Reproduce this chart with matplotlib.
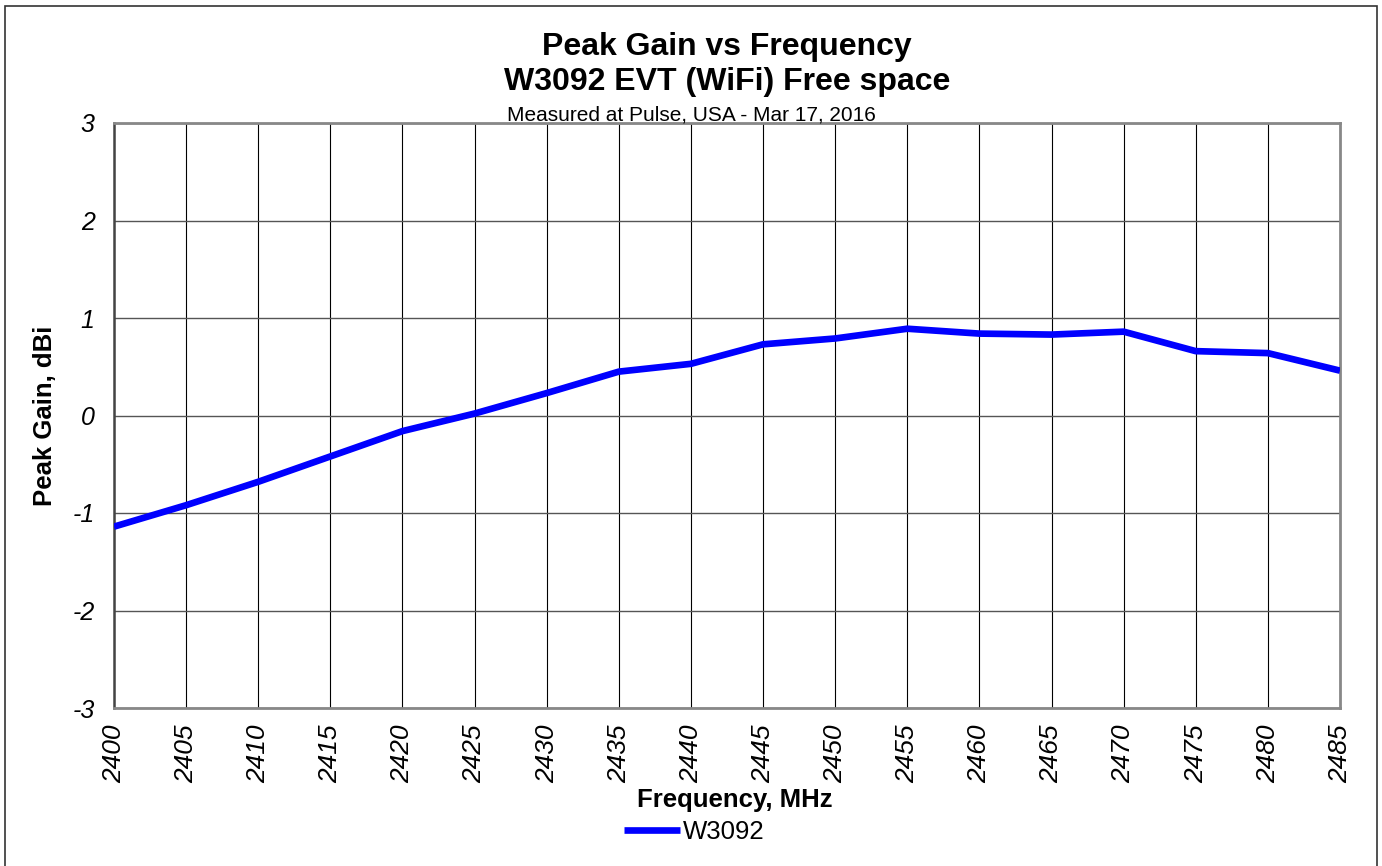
import matplotlib
matplotlib.use('Agg')
import matplotlib.pyplot as plt
from matplotlib.patches import Rectangle

plt.rcParams['font.family'] = ['Liberation Sans', 'DejaVu Sans']

# data
freq_mhz = [2400, 2405, 2410, 2415, 2420, 2425, 2430, 2435, 2440,
            2445, 2450, 2455, 2460, 2465, 2470, 2475, 2480, 2485]
peak_gain = [-1.14, -0.92, -0.68, -0.42, -0.16, 0.02, 0.23, 0.45, 0.53,
             0.73, 0.79, 0.89, 0.84, 0.83, 0.86, 0.66, 0.64, 0.46]
y_ticks = [-3, -2, -1, 0, 1, 2, 3]
series_name = 'W3092'

W, H = 1382, 866
fig = plt.figure(figsize=(W / 100, H / 100), dpi=100)
fig.patch.set_facecolor('white')

# plot area in pixels: x 114..1340, y 123..708
ax = fig.add_axes([114 / W, 1 - 708 / H, (1340 - 114) / W, (708 - 123) / H])

ax.plot(freq_mhz, peak_gain, color='#0000FF', lw=4.8, solid_capstyle='butt',
        label=series_name, zorder=3)

ax.set_xlim(2400, 2485)
ax.set_ylim(-3, 3)
ax.set_xticks(freq_mhz)
ax.set_yticks(y_ticks)
ax.set_xticklabels([str(f) for f in freq_mhz], rotation=90, style='italic',
                   fontsize=19)
ax.set_yticklabels([str(v) for v in y_ticks], style='italic', fontsize=18)
ax.tick_params(axis='x', length=0, pad=12)
ax.tick_params(axis='y', length=0, pad=14)

ax.grid(True, axis='x', color='black', lw=0.8)
ax.grid(True, axis='y', color='#555555', lw=1.0)

for side in ['top', 'right', 'bottom']:
    ax.spines[side].set_color('#888888')
    ax.spines[side].set_linewidth(2)
ax.spines['left'].set_color('#444444')
ax.spines['left'].set_linewidth(1.8)

# titles
fig.text(727 / W, 1 - 47 / H, 'Peak Gain vs Frequency', fontsize=23,
         fontweight='bold', ha='center', va='center')
fig.text(727 / W, 1 - 82 / H, 'W3092 EVT (WiFi) Free space', fontsize=23,
         fontweight='bold', ha='center', va='center')
fig.text(691 / W, 1 - 115 / H, 'Measured at Pulse, USA - Mar 17, 2016',
         fontsize=15, ha='center', va='center')

# axis labels
fig.text(735 / W, 1 - 800 / H, 'Frequency, MHz', fontsize=18.5,
         fontweight='bold', ha='center', va='center')
fig.text(45 / W, 1 - 416 / H, 'Peak Gain, dBi', fontsize=18.5,
         fontweight='bold', ha='center', va='center', rotation=90)

# legend
fig.legend(loc='center', bbox_to_anchor=(694 / W, 1 - 832 / H), frameon=False,
           fontsize=18.5, handlelength=2.2, handletextpad=0.1,
           borderpad=0, borderaxespad=0)

# outer frame
fig.patches.append(Rectangle((5 / W, -0.01), (1377 - 5) / W, 1.01 - 6 / H,
                             transform=fig.transFigure, fill=False,
                             edgecolor='#333333', lw=1.2))

fig.savefig('out.png', dpi=100, facecolor='white')
